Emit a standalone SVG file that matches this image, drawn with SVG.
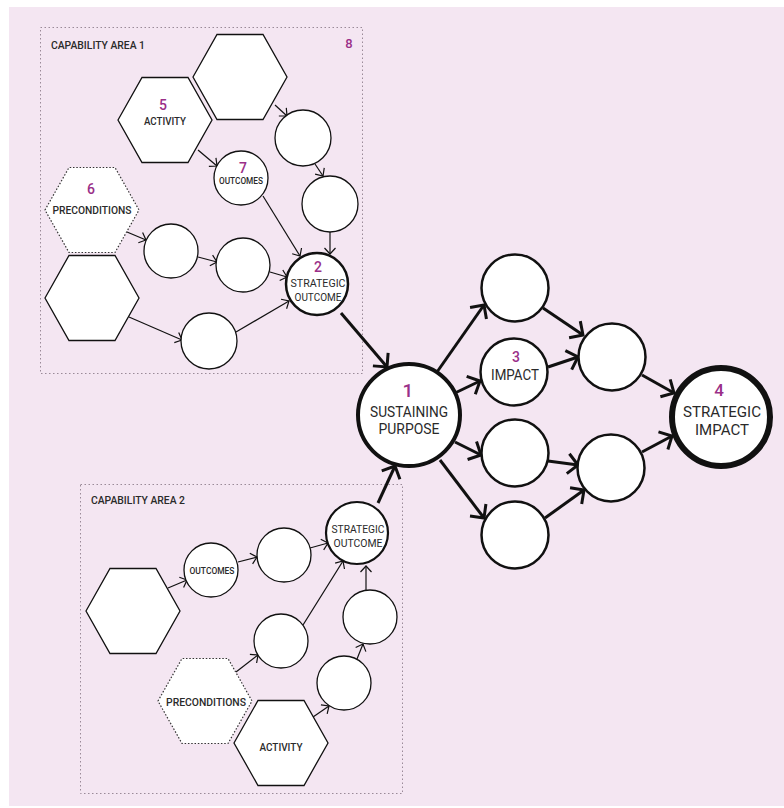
<svg xmlns="http://www.w3.org/2000/svg" xmlns:xlink="http://www.w3.org/1999/xlink" width="784" height="808" viewBox="0 0 784 808">
<style>
text{font-family:Roboto,"Liberation Sans",sans-serif;fill:#2a2a2a;text-anchor:middle}
.num{fill:#9a2f88;font-weight:500}
.sm{font-size:11px;font-weight:500}
.xs{font-size:9.5px;font-weight:500}
.area{font-size:11px;font-weight:500;text-anchor:start}
.thin{fill:#fff;stroke:#111;stroke-width:1.3}
.dot{fill:#fff;stroke:#333;stroke-width:1.2;stroke-dasharray:1.5 1.8}
.so{fill:#fff;stroke:#111;stroke-width:2.5}
.mid{fill:#fff;stroke:#111;stroke-width:2.5}
.box{fill:none;stroke:#9a8a98;stroke-width:1;stroke-dasharray:1.5 2.5}
.a{fill:none;stroke:#111;stroke-width:1.2;marker-end:url(#ah)}
.b{fill:none;stroke:#111;stroke-width:3;marker-end:url(#ahb)}
</style>
<defs>
<path id="hex" d="M-47,0 L-23,-42.5 L23,-42.5 L47,0 L23,42.5 L-23,42.5 Z"/>
<marker id="ah" viewBox="-10 -10 13 20" refX="0" refY="0" markerWidth="13" markerHeight="20" markerUnits="userSpaceOnUse" orient="auto"><path d="M-6,-5.5 L0,0 L-6,5.5" fill="none" stroke="#111" stroke-width="1.2"/></marker>
<marker id="ahb" viewBox="-14 -14 18 28" refX="0" refY="0" markerWidth="18" markerHeight="28" markerUnits="userSpaceOnUse" orient="auto"><path d="M-10,-10 L0,0 L-10,10" fill="none" stroke="#111" stroke-width="3"/></marker>
</defs>
<rect x="0" y="0" width="784" height="808" fill="#fff"/>
<rect x="9" y="7" width="775" height="799" fill="#f4e6f2"/>

<g id="area1">
<rect class="box" x="40.5" y="27.5" width="322" height="346"/>
<text class="area" x="51" y="49" textLength="94" lengthAdjust="spacingAndGlyphs">CAPABILITY AREA 1</text>
<text class="num" x="349" y="48" font-size="13">8</text>
</g>
<g id="area2">
<rect class="box" x="80.5" y="484.5" width="322" height="309"/>
<text class="area" x="91" y="503.5" textLength="94" lengthAdjust="spacingAndGlyphs">CAPABILITY AREA 2</text>
</g>

<g id="connectors">
<line class="a" x1="275" y1="105" x2="287" y2="116"/>
<line class="a" x1="315" y1="164" x2="323" y2="176"/>
<line class="a" x1="198" y1="150" x2="217" y2="166"/>
<line class="a" x1="263" y1="196" x2="300" y2="256"/>
<line class="a" x1="330" y1="232" x2="330" y2="254"/>
<line class="a" x1="127" y1="232" x2="146" y2="240"/>
<line class="a" x1="198" y1="257" x2="217" y2="262"/>
<line class="a" x1="270" y1="272" x2="287" y2="277"/>
<line class="a" x1="129" y1="317" x2="182" y2="340"/>
<line class="a" x1="236" y1="332" x2="289" y2="301"/>
<line class="b" x1="341" y1="313" x2="387" y2="367"/>
<line class="b" x1="378" y1="503" x2="395" y2="466"/>
<line class="b" x1="437" y1="372" x2="484" y2="305"/>
<line class="b" x1="455" y1="393" x2="480" y2="381"/>
<line class="b" x1="455" y1="442" x2="481" y2="455"/>
<line class="b" x1="440" y1="460" x2="484" y2="518"/>
<line class="b" x1="543" y1="308" x2="583" y2="335"/>
<line class="b" x1="548" y1="367" x2="578" y2="357"/>
<line class="b" x1="548" y1="461" x2="578" y2="465"/>
<line class="b" x1="545" y1="518" x2="584" y2="490"/>
<line class="b" x1="642" y1="375" x2="674" y2="393"/>
<line class="b" x1="642" y1="452" x2="672" y2="436"/>
<line class="a" x1="168" y1="588" x2="187" y2="580"/>
<line class="a" x1="238" y1="562" x2="257" y2="557"/>
<line class="a" x1="310" y1="548" x2="328" y2="543"/>
<line class="a" x1="303" y1="625" x2="343" y2="561"/>
<line class="a" x1="366" y1="590" x2="366" y2="566"/>
<line class="a" x1="236" y1="672" x2="258" y2="655"/>
<line class="a" x1="313" y1="717" x2="329" y2="706"/>
<line class="a" x1="357" y1="659" x2="363" y2="644"/>
</g>

<g id="hex-top"><use href="#hex" x="240" y="77" class="thin"/></g>
<g id="activity1"><use href="#hex" x="165" y="120" class="thin"/>
<text class="num" x="163" y="110" font-size="14">5</text>
<text class="sm" x="165" y="125" textLength="42" lengthAdjust="spacingAndGlyphs">ACTIVITY</text></g>
<g id="preconditions1"><use href="#hex" x="92" y="210" class="dot"/>
<text class="num" x="91" y="194" font-size="14">6</text>
<text class="sm" x="92" y="214" textLength="79" lengthAdjust="spacingAndGlyphs">PRECONDITIONS</text></g>
<g id="hex-left"><use href="#hex" x="92" y="298" class="thin"/></g>

<g id="c1a"><circle class="thin" cx="303" cy="138" r="28"/></g>
<g id="outcomes1"><circle class="thin" cx="241" cy="178" r="27"/>
<text class="num" x="243" y="172.5" font-size="14">7</text>
<text class="xs" x="241" y="184" textLength="44" lengthAdjust="spacingAndGlyphs">OUTCOMES</text></g>
<g id="c1b"><circle class="thin" cx="330" cy="204" r="28"/></g>
<g id="c1c"><circle class="thin" cx="171" cy="251" r="27"/></g>
<g id="c1d"><circle class="thin" cx="243" cy="265" r="27"/></g>
<g id="c1e"><circle class="thin" cx="209" cy="341" r="28"/></g>
<g id="strategic-outcome1"><circle class="so" cx="317" cy="284" r="31"/>
<text class="num" x="318" y="272" font-size="14">2</text>
<text x="318" y="287.3" font-size="11.5" textLength="55" lengthAdjust="spacingAndGlyphs">STRATEGIC</text>
<text x="318" y="300.7" font-size="11.5" textLength="47" lengthAdjust="spacingAndGlyphs">OUTCOME</text></g>

<g id="sustaining-purpose"><circle fill="#fff" stroke="#111" stroke-width="4" cx="409" cy="415" r="51"/>
<text class="num" x="408" y="397" font-size="19">1</text>
<text x="409" y="417" font-size="15" textLength="78" lengthAdjust="spacingAndGlyphs">SUSTAINING</text>
<text x="409" y="434" font-size="15" textLength="61" lengthAdjust="spacingAndGlyphs">PURPOSE</text></g>

<g id="r1"><circle class="mid" cx="515" cy="288" r="33.5"/></g>
<g id="impact"><circle class="mid" cx="514" cy="372" r="33.5"/>
<text class="num" x="516" y="362" font-size="14">3</text>
<text x="515" y="380" font-size="14" textLength="48" lengthAdjust="spacingAndGlyphs">IMPACT</text></g>
<g id="r3"><circle class="mid" cx="515" cy="453" r="33.5"/></g>
<g id="r4"><circle class="mid" cx="515" cy="535" r="33.5"/></g>
<g id="m1"><circle class="mid" cx="612" cy="357" r="33.5"/></g>
<g id="m2"><circle class="mid" cx="611" cy="468" r="33.5"/></g>
<g id="strategic-impact"><circle fill="#fff" stroke="#111" stroke-width="6" cx="721" cy="417" r="49"/>
<text class="num" x="719" y="396" font-size="17">4</text>
<text x="722" y="416.7" font-size="15" textLength="78" lengthAdjust="spacingAndGlyphs">STRATEGIC</text>
<text x="722" y="435" font-size="15" textLength="54" lengthAdjust="spacingAndGlyphs">IMPACT</text></g>

<g id="hex2"><use href="#hex" x="133" y="611" class="thin"/></g>
<g id="outcomes2"><circle class="thin" cx="211" cy="570" r="27"/>
<text class="xs" x="212" y="573.5" textLength="45" lengthAdjust="spacingAndGlyphs">OUTCOMES</text></g>
<g id="c2a"><circle class="thin" cx="284" cy="555" r="27"/></g>
<g id="c2b"><circle class="thin" cx="281" cy="641" r="27"/></g>
<g id="c2c"><circle class="thin" cx="370" cy="617" r="27"/></g>
<g id="c2d"><circle class="thin" cx="344" cy="683" r="27"/></g>
<g id="strategic-outcome2"><circle fill="#fff" stroke="#111" stroke-width="2.2" cx="357" cy="533" r="31"/>
<text x="358" y="532.5" font-size="11" textLength="53" lengthAdjust="spacingAndGlyphs">STRATEGIC</text>
<text x="358" y="546.5" font-size="11" textLength="49" lengthAdjust="spacingAndGlyphs">OUTCOME</text></g>
<g id="preconditions2"><use href="#hex" x="205" y="701" class="dot"/>
<text class="sm" x="206" y="706" textLength="80" lengthAdjust="spacingAndGlyphs">PRECONDITIONS</text></g>
<g id="activity2"><use href="#hex" x="281" y="743" class="thin"/>
<text class="sm" x="281" y="750.5" textLength="43" lengthAdjust="spacingAndGlyphs">ACTIVITY</text></g>
</svg>
